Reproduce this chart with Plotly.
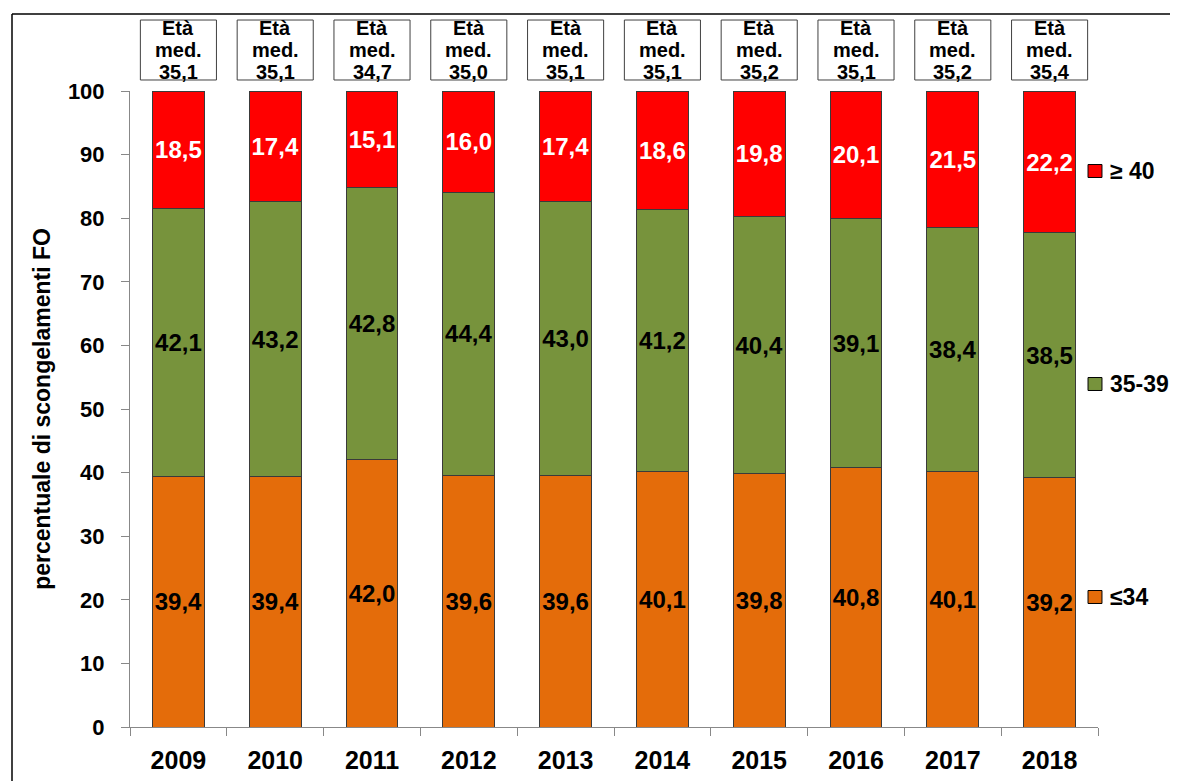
import plotly.graph_objects as go

years = ["2009", "2010", "2011", "2012", "2013", "2014", "2015", "2016", "2017", "2018"]
age_le34 = [39.4, 39.4, 42.0, 39.6, 39.6, 40.1, 39.8, 40.8, 40.1, 39.2]
age_35_39 = [42.1, 43.2, 42.8, 44.4, 43.0, 41.2, 40.4, 39.1, 38.4, 38.5]
age_ge40 = [18.5, 17.4, 15.1, 16.0, 17.4, 18.6, 19.8, 20.1, 21.5, 22.2]
median_age = [35.1, 35.1, 34.7, 35.0, 35.1, 35.1, 35.2, 35.1, 35.2, 35.4]
series_names = ["≤34", "35-39", "≥ 40"]
y_ticks = [0, 10, 20, 30, 40, 50, 60, 70, 80, 90, 100]

FONT = "Liberation Sans, Arial, sans-serif"
colors = ["#E46C0A", "#77933C", "#FF0000"]
text_colors = ["black", "black", "white"]


def fmt(v):
    return f"{v:.1f}".replace(".", ",")


fig = go.Figure()
for vals, name, col, tcol in zip([age_le34, age_35_39, age_ge40], series_names, colors, text_colors):
    fig.add_trace(go.Bar(
        x=years, y=vals, name=name,
        marker=dict(color=col, line=dict(color="#3a3a3a", width=1)),
        text=[fmt(v) for v in vals], textposition="inside", insidetextanchor="middle",
        textangle=0,
        textfont=dict(family=FONT, size=24, color=tcol, weight="bold"),
        showlegend=False,
    ))

# median age boxes (x given as category index)
box_half = 0.393
line_y = [1.0991, 1.0645, 1.0299]
for i, m in enumerate(median_age):
    fig.add_shape(type="rect", xref="x", yref="paper",
                  x0=i - box_half, x1=i + box_half, y0=1.0173, y1=1.1116,
                  fillcolor="white", line=dict(color="#404040", width=1))
    for txt, yy in zip(["Età", "med.", fmt(m)], line_y):
        fig.add_annotation(
            x=i, xref="x", y=yy, yref="paper", yanchor="middle", xanchor="center",
            text=f"<b>{txt}</b>", showarrow=False,
            font=dict(family=FONT, size=20, color="black"),
        )

# custom legend
legend_y = {"≥ 40": 0.8742, "35-39": 0.5393, "≤34": 0.2044}
for name, col in zip(series_names, colors):
    yc = legend_y[name]
    fig.add_shape(type="rect", xref="paper", yref="paper",
                  x0=0.9897, x1=1.0041, y0=yc - 0.0102, y1=yc + 0.0102,
                  fillcolor=col, line=dict(color="black", width=1))
    fig.add_annotation(x=1.0105, y=yc, xref="paper", yref="paper", xanchor="left", yanchor="middle",
                       text=f"<b>{name}</b>", showarrow=False,
                       font=dict(family=FONT, size=23, color="black"))

# frame lines
fig.add_shape(type="line", xref="paper", yref="paper", x0=-0.1219, x1=1.09, y0=1.121, y1=1.121,
              line=dict(color="black", width=1.5))
fig.add_shape(type="line", xref="paper", yref="paper", x0=-0.1219, x1=-0.1219, y0=1.121, y1=-0.1,
              line=dict(color="black", width=1.5))

fig.update_layout(
    barmode="stack", bargap=0.463,
    width=1170, height=773,
    margin=dict(l=122, r=80, t=83, b=54, autoexpand=False),
    plot_bgcolor="white", paper_bgcolor="white",
    font=dict(family=FONT, color="black"),
    uniformtext=dict(minsize=24, mode="show"),
)
fig.update_xaxes(
    type="category", categoryorder="array", categoryarray=years,
    range=[-0.5, len(years) - 0.5], autorange=False, tickangle=0,
    showline=True, linecolor="#888888", linewidth=1,
    ticks="outside", tickson="boundaries", ticklen=8, tickcolor="#888888",
    tickfont=dict(family=FONT, size=25, color="black", weight="bold"),
    ticklabelstandoff=11,
    showgrid=False, automargin=False,
)
fig.update_yaxes(
    range=[0, 100], tickvals=y_ticks, showline=True, linecolor="#888888", linewidth=1,
    ticks="outside", ticklen=8, tickcolor="#888888", showgrid=False, zeroline=False,
    tickfont=dict(family=FONT, size=22, color="black", weight="bold"),
    ticklabelstandoff=12,
    automargin=False,
    title=dict(text="<b>percentuale di scongelamenti FO</b>", standoff=10,
               font=dict(family=FONT, size=23, color="black")),
)

fig.write_html("out.html")
